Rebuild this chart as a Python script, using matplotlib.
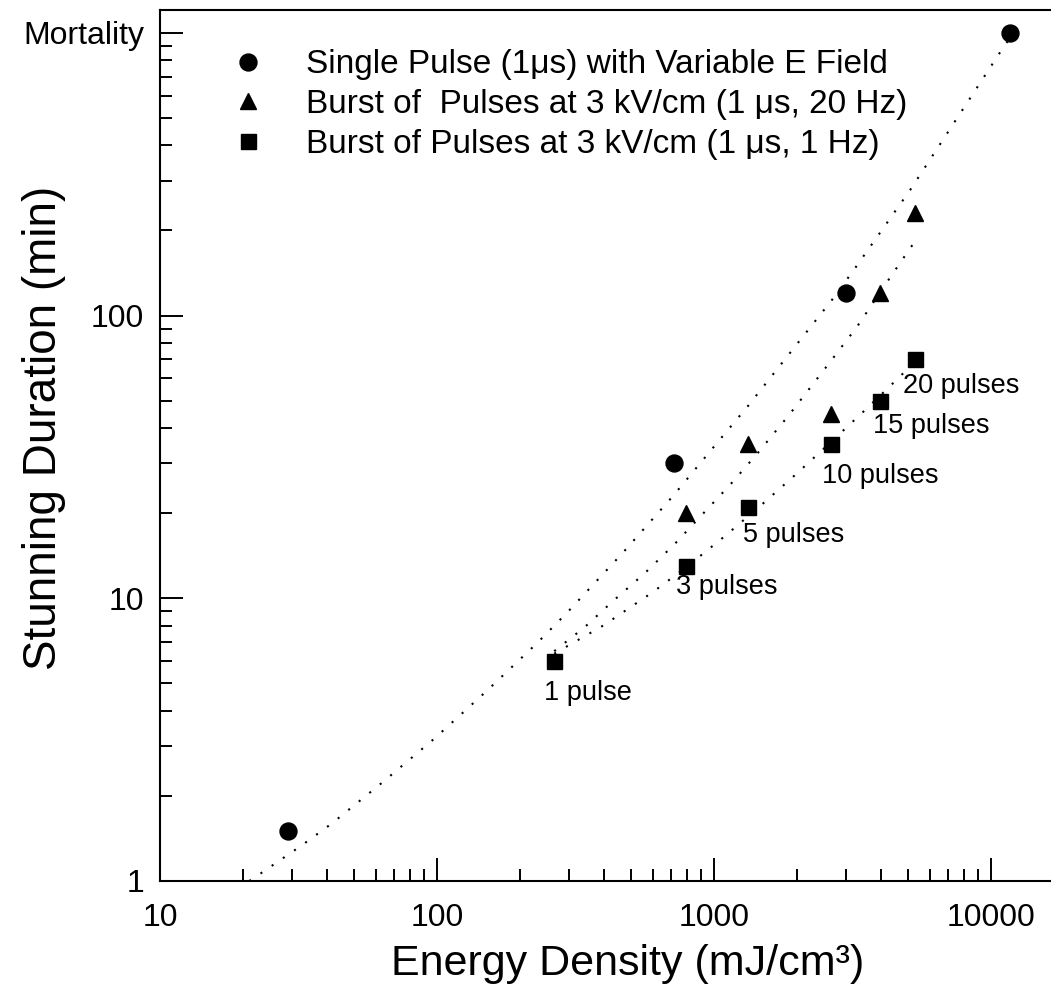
import matplotlib
matplotlib.use("Agg")
import matplotlib.pyplot as plt
from matplotlib.ticker import LogLocator, NullFormatter, FixedLocator, FixedFormatter

plt.rcParams['font.family'] = ['Liberation Sans', 'DejaVu Sans']

# Single pulse (1 us) at variable field strength
single_energy = [29, 720, 3000, 11700]
single_stun = [1.5, 30, 120, 1000]

# Bursts at 3 kV/cm, 20 Hz (3, 5, 10, 15, 20 pulses)
burst20_energy = [795, 1325, 2650, 3975, 5300]
burst20_stun = [20, 35, 45, 120, 230]

# Bursts at 3 kV/cm, 1 Hz (1, 3, 5, 10, 15, 20 pulses)
burst1_energy = [265, 795, 1325, 2650, 3975, 5300]
burst1_stun = [6, 13, 21, 35, 50, 70]
pulse_labels = ['1 pulse', '3 pulses', '5 pulses', '10 pulses', '15 pulses', '20 pulses']

# Regression curves as drawn (dotted)
fit_single_x = [21, 23.2, 32.6, 41.8, 63.8, 97.5, 150, 230, 294, 466, 711, 1076, 1327,
                2692, 3228, 5105, 10864, 11700]
fit_single_y = [1.0, 1.067, 1.34, 1.60, 2.24, 3.18, 4.67, 6.95, 8.87, 14.4, 23.0, 37.5, 47.9,
                115, 147, 278, 863, 960]
fit_burst20_x = [265, 342, 432, 564, 723, 912, 1143, 1429, 1866, 2557, 3281, 4315, 5105, 5300]
fit_burst20_y = [6.5, 7.92, 9.78, 12.3, 15.6, 19.9, 25.2, 32.4, 44.5, 66.3, 91.2, 136, 173, 182]
fit_burst1_x = [265, 400, 600, 800, 1100, 1500, 2000, 2700, 3500, 4400, 5300]
fit_burst1_y = [6.37, 8.03, 10.5, 12.96, 16.66, 21.6, 27.75, 36.4, 46.2, 57.3, 68.4]

legend_labels = ['Single Pulse (1\u03bcs) with Variable E Field',
                 'Burst of  Pulses at 3 kV/cm (1 \u03bcs, 20 Hz)',
                 'Burst of Pulses at 3 kV/cm (1 \u03bcs, 1 Hz)']

# label offsets in pixels (left edge, vertical centre) relative to each square
label_offsets = [(-10, -32), (-10, -21), (-5, -28), (-9, -32), (-7, -25), (-12, -27)]

fig = plt.figure(figsize=(10.51, 9.93), dpi=100)
ax = fig.add_axes([160 / 1051, 112 / 993, 891 / 1051, 871 / 993])
ax.set_xscale('log')
ax.set_yscale('log')

dot = (0, (1, 5.5))
for fx, fy in [(fit_single_x, fit_single_y), (fit_burst20_x, fit_burst20_y),
               (fit_burst1_x, fit_burst1_y)]:
    ax.plot(fx, fy, color='black', linewidth=1.5, linestyle=dot)

h1, = ax.plot(single_energy, single_stun, 'o', color='black', markersize=12.2, linestyle='none')
h2, = ax.plot(burst20_energy, burst20_stun, '^', color='black', markersize=12, linestyle='none')
h3, = ax.plot(burst1_energy, burst1_stun, 's', color='black', markersize=10.8, linestyle='none')

for lab, ex, st, (dx, dy) in zip(pulse_labels, burst1_energy, burst1_stun, label_offsets):
    ax.annotate(lab, (ex, st), xytext=(dx, dy), textcoords='offset pixels',
                ha='left', va='center', fontsize=19.5)

ax.set_xlim(10, 16470)
ax.set_ylim(1, 1205)

ax.xaxis.set_major_locator(FixedLocator([10, 100, 1000, 10000]))
ax.xaxis.set_major_formatter(FixedFormatter(['10', '100', '1000', '10000']))
ax.xaxis.set_minor_locator(LogLocator(base=10, subs=range(2, 10), numticks=20))
ax.xaxis.set_minor_formatter(NullFormatter())
ax.yaxis.set_major_locator(FixedLocator([1, 10, 100, 1000]))
ax.yaxis.set_major_formatter(FixedFormatter(['1', '10', '100', 'Mortality']))
ax.yaxis.set_minor_locator(LogLocator(base=10, subs=range(2, 10), numticks=20))
ax.yaxis.set_minor_formatter(NullFormatter())

ax.tick_params(which='both', direction='in', width=1.4, top=False, right=False)
ax.tick_params(which='major', length=16.5)
ax.tick_params(which='minor', length=8.6)
ax.tick_params(axis='x', which='major', labelsize=23, pad=16)
ax.tick_params(axis='y', which='major', labelsize=23, pad=11.5)

ax.spines['right'].set_visible(False)
for side in ['left', 'bottom', 'top']:
    ax.spines[side].set_linewidth(1.5)

ax.set_xlabel('Energy Density (mJ/cm\u00b3)', fontsize=31)
ax.set_ylabel('Stunning Duration (min)', fontsize=33)
ax.xaxis.set_label_coords(0.525, -0.0725)
ax.yaxis.set_label_coords(-0.106, 0.52)

ax.legend([h1, h2, h3], legend_labels, loc='upper left', bbox_to_anchor=(0.046, 0.970),
          borderaxespad=0, frameon=False, fontsize=24, handlelength=2.0,
          handletextpad=0.76, labelspacing=0.26, numpoints=1)

fig.savefig('out.png', dpi=100)
